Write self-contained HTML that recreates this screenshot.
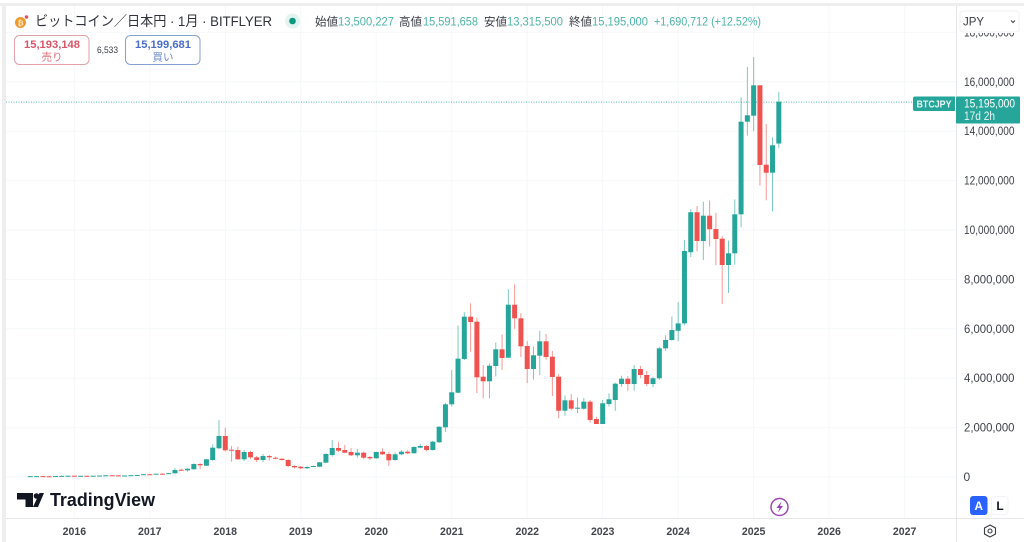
<!DOCTYPE html>
<html lang="ja">
<head>
<meta charset="utf-8">
<title>BTCJPY Monthly Chart</title>
<style>
html,body{margin:0;padding:0;background:#fff;width:1024px;height:542px;overflow:hidden}
svg{display:block;font-family:"Liberation Sans","Noto Sans CJK JP",sans-serif}
</style>
</head>
<body>
<svg id="chart" width="1024" height="542" viewBox="0 0 1024 542" xmlns="http://www.w3.org/2000/svg">
  <rect x="0" y="0" width="1024" height="542" fill="#ffffff"/>
  <rect x="0" y="3" width="1024" height="3" fill="#eeeeee"/>
  <rect x="2" y="3" width="4" height="539" fill="#eeeeee"/>
  <g id="grid"></g>
  <line id="priceLine" x1="6" x2="913" stroke="#26a69a" stroke-width="1" stroke-dasharray="1 1.5" opacity="0.75"/>
  <g id="candles"></g>
  <line x1="956.5" x2="956.5" y1="6" y2="542" stroke="#e4e6ea"/>
  <line x1="6" x2="1024" y1="518.5" y2="518.5" stroke="#e4e6ea"/>
  <g id="priceAxis"></g>
  <g id="timeAxis"></g>

  <g>
    <rect x="957" y="7" width="67" height="26" fill="#ffffff"/>
    <rect x="960" y="11" width="59" height="21" rx="3" fill="#ffffff" stroke="#f0f1f3"/>
    <text x="963" y="25.5" font-size="11.5" fill="#3a3d45">JPY</text>
    <path d="M1011 20.5l2 2 2-2" fill="none" stroke="#3a3d45" stroke-width="1"/>
  </g>

  <g>
    <circle cx="20.5" cy="22.5" r="5.5" fill="#ee9a2e"/>
    <text x="20.5" y="25.3" font-size="7.5" font-weight="bold" fill="#ffe9c4" text-anchor="middle">₿</text>
    <circle cx="26.5" cy="17" r="1.8" fill="#e0506a"/>
    <text x="35" y="26" font-size="14" fill="#30333b" textLength="237" lengthAdjust="spacingAndGlyphs">ビットコイン／日本円 · 1月 · BITFLYER</text>
    <circle cx="292.5" cy="21" r="7.5" fill="#e3f3ef"/>
    <circle cx="292.5" cy="21" r="3.3" fill="#089981"/>
    <text x="315" y="25.5" font-size="11.5" fill="#3a3d45">始値</text>
    <text x="338" y="25.5" font-size="11.5" fill="#4db3a8" textLength="56" lengthAdjust="spacingAndGlyphs">13,500,227</text>
    <text x="399" y="25.5" font-size="11.5" fill="#3a3d45">高値</text>
    <text x="423" y="25.5" font-size="11.5" fill="#4db3a8" textLength="55" lengthAdjust="spacingAndGlyphs">15,591,658</text>
    <text x="484" y="25.5" font-size="11.5" fill="#3a3d45">安値</text>
    <text x="507" y="25.5" font-size="11.5" fill="#4db3a8" textLength="56" lengthAdjust="spacingAndGlyphs">13,315,500</text>
    <text x="569" y="25.5" font-size="11.5" fill="#3a3d45">終値</text>
    <text x="592" y="25.5" font-size="11.5" fill="#4db3a8" textLength="56" lengthAdjust="spacingAndGlyphs">15,195,000</text>
    <text x="654" y="25.5" font-size="11.5" fill="#4db3a8" textLength="107" lengthAdjust="spacingAndGlyphs">+1,690,712 (+12.52%)</text>
  </g>

  <g>
    <rect x="14.5" y="35.5" width="74.5" height="29" rx="5" fill="#ffffff" stroke="#e3a2a9"/>
    <text x="52" y="48" font-size="11" font-weight="bold" fill="#d8566a" text-anchor="middle" textLength="56" lengthAdjust="spacingAndGlyphs">15,193,148</text>
    <text x="52" y="60.5" font-size="10.5" fill="#e0707f" text-anchor="middle">売り</text>
  </g>
  <text x="97" y="53" font-size="9.5" fill="#3a3d45" textLength="21" lengthAdjust="spacingAndGlyphs">6,533</text>
  <g>
    <rect x="125.5" y="35.5" width="74.5" height="29" rx="5" fill="#ffffff" stroke="#86a0d4"/>
    <text x="163" y="48" font-size="11" font-weight="bold" fill="#4a6cc8" text-anchor="middle" textLength="56" lengthAdjust="spacingAndGlyphs">15,199,681</text>
    <text x="163" y="60.5" font-size="10.5" fill="#6a88d2" text-anchor="middle">買い</text>
  </g>

  <g>
    <path d="M915 96.5h40v14.5h-40a2 2 0 0 1-2-2v-10.5a2 2 0 0 1 2-2z" fill="#26a69a"/>
    <text x="934" y="107.5" font-size="10" font-weight="bold" fill="#e8f7f5" text-anchor="middle" textLength="35" lengthAdjust="spacingAndGlyphs">BTCJPY</text>
    <rect x="956" y="96.5" width="64" height="27" rx="1" fill="#26a69a"/>
    <text x="964" y="107.5" font-size="12" fill="#ffffff" textLength="51" lengthAdjust="spacingAndGlyphs">15,195,000</text>
    <text x="964" y="120" font-size="11.5" fill="#e8f7f5" textLength="31" lengthAdjust="spacingAndGlyphs">17d 2h</text>
  </g>

  <g>
    <path d="M17 493h16v14h-7.5v-7.5H17z" fill="#131722"/>
    <circle cx="36.5" cy="496" r="2.8" fill="#131722"/>
    <path d="M39.5 493H44l-6 14h-5z" fill="#131722"/>
    <text x="50" y="506" font-size="18.5" font-weight="bold" fill="#131722" textLength="105" lengthAdjust="spacingAndGlyphs">TradingView</text>
  </g>

  <g>
    <circle cx="779.5" cy="507" r="8.5" fill="#ffffff" stroke="#9c4bb0" stroke-width="1.5"/>
    <path d="M781.5 501.5l-5 6.5h3l-1.5 4.5 5-6.5h-3z" fill="#9c3fc0"/>
  </g>

  <g>
    <rect x="970" y="496" width="17.5" height="19" rx="3" fill="#2962ff"/>
    <text x="978.7" y="510" font-size="12" font-weight="bold" fill="#ffffff" text-anchor="middle">A</text>
  </g>
  <g>
    <rect x="991.5" y="496.5" width="16.5" height="18" rx="3" fill="#ffffff" stroke="#f2f3f5"/>
    <text x="1000" y="510" font-size="12" font-weight="bold" fill="#131722" text-anchor="middle">L</text>
  </g>
  <g>
    <path d="M990 525l5.5 3v6l-5.5 3-5.500-3v-6z" fill="none" stroke="#3a3d45" stroke-width="1.1"/>
    <circle cx="990" cy="531" r="2" fill="none" stroke="#3a3d45" stroke-width="1.1"/>
  </g>
</svg>

<script>
// Monthly candles from June 2015 to May 2025, prices in millions of JPY
const startYear = 2015;
const startMonth = 6;
const opens = [
  .028,.032,.035,.029,.028,.038,.045,
  .052,.044,.049,.047,.052,.060,.070,.066,.060,.061,.073,.083,
  .112,.110,.133,.128,.150,.295,.270,.312,.526,.458,.688,1.162,
  1.660,1.105,1.093,.717,1.012,.798,.688,.850,.780,.740,.688,.445,
  .417,.352,.405,.417,.580,.890,1.174,1.093,1.012,.879,.984,.810,
  .757,1.024,.931,.688,.919,1.024,.960,1.186,1.255,1.093,1.405,2.012,
  2.943,3.413,4.777,6.490,6.287,4.060,3.875,4.494,5.170,4.830,6.976,6.425,
  5.304,4.372,4.910,5.494,4.870,4.060,2.684,3.105,2.765,2.765,3.050,2.348,
  2.146,2.955,3.117,3.765,3.980,3.765,4.372,4.130,3.765,3.996,5.210,5.547,
  5.920,6.220,9.100,10.720,9.555,10.580,10.040,9.648,8.583,9.057,10.635,14.385,
  14.628,15.858,12.644,12.320,13.500227
];
const highs = [
  .033,.040,.037,.032,.040,.060,.057,
  .055,.050,.050,.053,.062,.085,.077,.068,.063,.075,.083,.115,
  .130,.135,.150,.155,.364,.330,.360,.550,.555,.735,1.324,2.308,
  1.996,1.255,1.227,1.093,1.053,.850,.931,.890,.820,.760,.720,.470,
  .440,.450,.460,.610,.960,1.498,1.417,1.296,1.174,1.134,1.030,.850,
  1.030,1.160,1.024,.990,1.090,1.090,1.240,1.330,1.296,1.470,2.050,3.000,
  4.330,6.130,6.670,7.030,6.450,4.530,4.600,5.440,5.770,7.600,7.800,6.630,
  5.500,5.280,5.920,5.790,5.100,4.160,3.300,3.360,3.220,3.200,3.120,2.440,
  3.117,3.390,3.817,4.100,4.080,4.530,4.500,4.300,4.060,5.270,5.740,6.500,
  7.080,9.600,10.840,10.970,11.150,11.190,10.700,9.760,9.570,11.240,15.360,16.600,
  17.000,15.858,14.290,13.750,15.591658
];
const lows = [
  .027,.031,.024,.027,.028,.037,.042,
  .042,.042,.046,.047,.050,.055,.065,.055,.058,.060,.072,.083,
  .090,.108,.100,.125,.134,.240,.210,.300,.312,.445,.660,1.120,
  1.030,.619,.688,.648,.720,.607,.607,.660,.720,.670,.400,.350,
  .320,.330,.400,.400,.560,.822,1.012,.958,.850,.780,.720,.690,
  .740,.890,.445,.660,.880,.930,.950,1.160,1.040,1.070,1.380,1.830,
  2.850,3.390,4.740,5.070,3.400,3.180,3.180,4.070,4.330,4.830,6.000,4.860,
  3.800,3.940,4.130,4.750,3.280,2.380,2.480,2.700,2.583,2.720,2.200,2.146,
  2.146,2.850,2.680,3.650,3.490,3.490,4.000,3.680,3.640,3.930,5.110,5.520,
  5.500,6.140,8.900,9.140,8.780,9.330,8.580,7.000,7.450,8.600,10.110,13.820,
  14.000,11.800,11.200,10.750,13.3155
];
const closes = [
  .032,.035,.029,.028,.038,.045,.052,
  .044,.049,.047,.052,.060,.070,.066,.060,.061,.073,.083,.112,
  .110,.133,.128,.155,.283,.270,.336,.526,.474,.717,1.186,1.660,
  1.081,1.065,.717,1.012,.798,.688,.850,.798,.740,.688,.445,.390,
  .352,.405,.445,.595,.931,1.174,1.065,.984,.879,.984,.781,.757,
  1.012,.919,.676,.919,1.024,.960,1.215,1.255,1.093,1.430,2.036,2.943,
  3.430,4.790,6.490,6.275,4.036,3.875,4.506,5.170,4.818,6.976,6.425,5.290,
  4.372,4.927,5.494,4.858,4.049,2.684,3.105,2.765,2.806,3.050,2.308,2.146,
  2.984,3.146,3.777,3.980,3.765,4.372,4.130,3.765,3.996,5.210,5.547,5.950,
  6.220,9.150,10.720,9.555,10.580,10.030,9.635,8.583,9.057,10.635,14.385,14.644,
  15.858,12.632,12.320,13.430,15.195
];
const yearLabels = [2016,2017,2018,2019,2020,2021,2022,2023,2024,2025,2026,2027];
const priceTicks = [0,2,4,6,8,10,12,14,16,18];
const lastPrice = 15.195;

const UP = '#26a69a';
const DOWN = '#ef5350';
const NS = 'http://www.w3.org/2000/svg';

function xScale(monthIndex){ return 30.3 + monthIndex * 6.29; }
function yScale(millions){ return 477 - millions * 24.7; }
function yearIndex(year){ return (year - startYear) * 12 - (startMonth - 1); }

function make(tag, attrs, parent){
  const el = document.createElementNS(NS, tag);
  for (const k in attrs) el.setAttribute(k, attrs[k]);
  parent.appendChild(el);
  return el;
}

const gridG = document.getElementById('grid');
const candleG = document.getElementById('candles');
const priceG = document.getElementById('priceAxis');
const timeG = document.getElementById('timeAxis');

priceTicks.forEach(function(t){
  const y = yScale(t);
  const line = make('line', {x1:6, x2:956, y1:y, y2:y, stroke:'#f6f7f8'}, gridG);
  
  
  const label = make('text', {y:y + 4, 'font-size':12, fill:'#3f424a'}, priceG);
  
  
  if (t === 0) {
    label.setAttribute('x', 963.5);
  } else {
    label.setAttribute('x', 964);
    label.setAttribute('textLength', 50.5);
    label.setAttribute('lengthAdjust', 'spacingAndGlyphs');
  }
  label.textContent = (t * 1000000).toLocaleString('en-US');
});

yearLabels.forEach(function(yr){
  const x = xScale(yearIndex(yr));
  const line = make('line', {x1:x, x2:x, y1:6, y2:518, stroke:'#f6f7f8'}, gridG);
  
  
  const label = make('text', {x:x, y:535, 'font-size':11, 'font-weight':'bold', fill:'#43464e', 'text-anchor':'middle', textLength:23.5, lengthAdjust:'spacingAndGlyphs'}, timeG);
  
  
  label.textContent = yr;
});

const priceLine = document.getElementById('priceLine');
priceLine.setAttribute('y1', yScale(lastPrice) + 0.5);
priceLine.setAttribute('y2', yScale(lastPrice) + 0.5);

opens.forEach(function(o, i){
  const c = closes[i];
  const color = c >= o ? UP : DOWN;
  const x = xScale(i);
  const wick = make('line', {x1:x, x2:x, y1:yScale(highs[i]), y2:yScale(lows[i]), stroke:color, 'stroke-width':1, opacity:0.6}, candleG);
  
  
  const top = yScale(Math.max(o, c));
  const h = Math.max(Math.abs(yScale(o) - yScale(c)), 1);
  const body = make('rect', {x:x - 2.5, y:top, width:5, height:h, fill:color}, candleG);
  
  
});
</script>
</body>
</html>
